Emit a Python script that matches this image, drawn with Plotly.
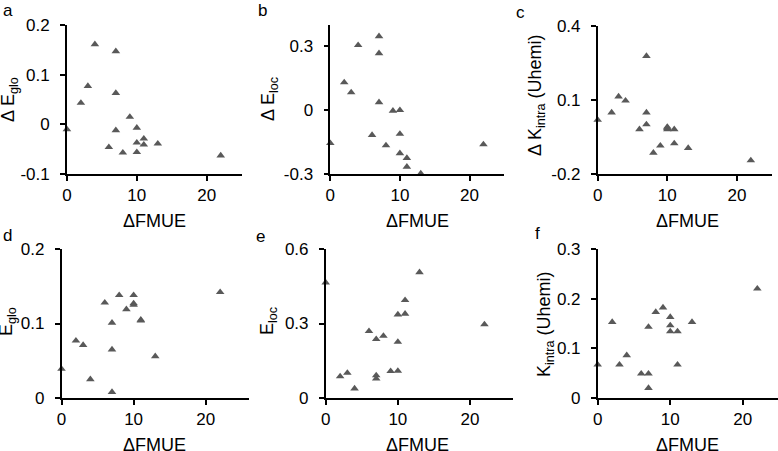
import plotly.graph_objects as go

W, H = 778, 451

# ---- data ----
fmue = [0, 2, 3, 4, 6, 7, 7, 7, 8, 9, 10, 10, 10, 11, 11, 13, 22]

d_eglo = [-0.010, 0.043, 0.077, 0.161, -0.046, 0.147, 0.063, -0.012, -0.057,
          0.015, -0.007, -0.037, -0.056, -0.029, -0.041, -0.039, -0.063]
d_eloc = [-0.155, 0.130, 0.083, 0.305, -0.117, 0.347, 0.267, 0.037, -0.166,
          -0.003, 0.000, -0.112, -0.203, -0.225, -0.266, -0.298, -0.161]
d_kintra = [0.019, 0.049, 0.114, 0.097, -0.019, 0.278, 0.049, 0.001, -0.114,
            -0.085, -0.009, -0.019, -0.014, -0.019, -0.076, -0.095, -0.145]
eglo = [0.039, 0.077, 0.071, 0.025, 0.128, 0.101, 0.065, 0.008, 0.138,
        0.119, 0.138, 0.127, 0.125, 0.105, 0.104, 0.056, 0.142]
eloc = [0.465, 0.087, 0.101, 0.038, 0.269, 0.237, 0.091, 0.078, 0.250,
        0.108, 0.336, 0.226, 0.109, 0.394, 0.339, 0.506, 0.296]
kintra = [0.067, 0.153, 0.067, 0.086, 0.049, 0.143, 0.049, 0.020, 0.173,
          0.182, 0.163, 0.146, 0.134, 0.134, 0.067, 0.153, 0.220]

x_ticks = [0, 10, 20]
x_ticktext = ["0", "10", "20"]

panel_letters = ["a", "b", "c", "d", "e", "f"]
y_titles = ["Δ E<sub>glo</sub>", "Δ E<sub>loc</sub>", "Δ K<sub>intra</sub> (Uhemi)",
            "E<sub>glo</sub>", "E<sub>loc</sub>", "K<sub>intra</sub> (Uhemi)"]
y_tickvals = [[-0.1, 0, 0.1, 0.2], [-0.3, 0, 0.3], [-0.2, 0.1, 0.4],
              [0, 0.1, 0.2], [0, 0.3, 0.6], [0, 0.1, 0.2, 0.3]]
y_ticktext = [["-0.1", "0", "0.1", "0.2"], ["-0.3", "0", "0.3"], ["-0.2", "0.1", "0.4"],
              ["0", "0.1", "0.2"], ["0", "0.3", "0.6"], ["0", "0.1", "0.2", "0.3"]]
y_ranges = [[-0.1, 0.2], [-0.3, 0.4], [-0.2, 0.4], [0, 0.2], [0, 0.6], [0, 0.3]]
x_ranges = [[0, 25], [0, 25], [0, 25], [0, 26], [0, 26], [0, 24.85]]
series = [d_eglo, d_eloc, d_kintra, eglo, eloc, kintra]
x_title = "ΔFMUE"

# ---- layout geometry (pixels) ----
x_dom_px = [(66.9, 241.7), (330.3, 504.3), (597.7, 771.7),
            (61.5, 249.0), (325.7, 513.3), (597.7, 778.0)]
y_dom_px = [(25, 174), (25, 174), (26, 174), (249, 398), (249, 398), (249, 398)]
ytitle_pos = [(10, 100), (270, 99), (536, 95), (7, 322), (268, 321), (545, 324)]
xtitle_pos = [(154, 221), (417, 221), (687, 221), (154, 445), (417, 445), (687, 445)]
letter_pos = [(2, 10), (257, 10), (515, 12), (2, 235), (255, 236), (534, 234)]

FONT = "Liberation Sans, Arial, sans-serif"
MARKER = "#595959"

fig = go.Figure()
layout = dict(
    width=W, height=H, margin=dict(l=0, r=0, t=0, b=0, autoexpand=False),
    paper_bgcolor="white", plot_bgcolor="white", showlegend=False,
    font=dict(family=FONT, size=17, color="black"),
)
annotations = []

for i in range(6):
    n = "" if i == 0 else str(i + 1)
    fig.add_trace(go.Scatter(
        x=fmue, y=series[i], mode="markers", xaxis="x" + n, yaxis="y" + n,
        marker=dict(symbol="triangle-up", size=7.5, color=MARKER, line=dict(width=0)),
        cliponaxis=False,
    ))
    x0, x1 = x_dom_px[i]
    y0, y1 = y_dom_px[i]
    layout["xaxis" + n] = dict(
        domain=[x0 / W, x1 / W], range=x_ranges[i], anchor="y" + n, automargin=False,
        showline=True, linecolor="black", linewidth=1.5, showgrid=False, zeroline=False,
        ticks="outside", ticklen=5, tickwidth=1.5, tickcolor="black",
        tickvals=x_ticks, ticktext=x_ticktext, tickfont=dict(size=17),
    )
    layout["yaxis" + n] = dict(
        domain=[1 - y1 / H, 1 - y0 / H], range=y_ranges[i], anchor="x" + n, automargin=False,
        showline=True, linecolor="black", linewidth=1.5, showgrid=False, zeroline=False,
        ticks="outside", ticklen=5, tickwidth=1.5, tickcolor="black",
        tickvals=y_tickvals[i], ticktext=y_ticktext[i], tickfont=dict(size=17),
        ticklabelstandoff=7,
    )
    tx, ty = ytitle_pos[i]
    annotations.append(dict(text=y_titles[i], x=tx / W, y=1 - ty / H, xref="paper", yref="paper",
                            textangle=-90, showarrow=False, xanchor="center", yanchor="middle",
                            borderpad=0, font=dict(size=18)))
    tx, ty = xtitle_pos[i]
    annotations.append(dict(text=x_title, x=tx / W, y=1 - ty / H, xref="paper", yref="paper",
                            showarrow=False, xanchor="center", yanchor="middle",
                            borderpad=0, font=dict(size=18)))
    lx, ly = letter_pos[i]
    annotations.append(dict(text=panel_letters[i], x=lx / W, y=1 - ly / H, xref="paper", yref="paper",
                            showarrow=False, xanchor="left", yanchor="middle",
                            borderpad=0, font=dict(size=17)))

layout["annotations"] = annotations
fig.update_layout(**layout)
fig.write_html("out.html", config={"displayModeBar": False},
               post_script="document.body.style.margin='0';document.body.style.overflow='hidden';")
